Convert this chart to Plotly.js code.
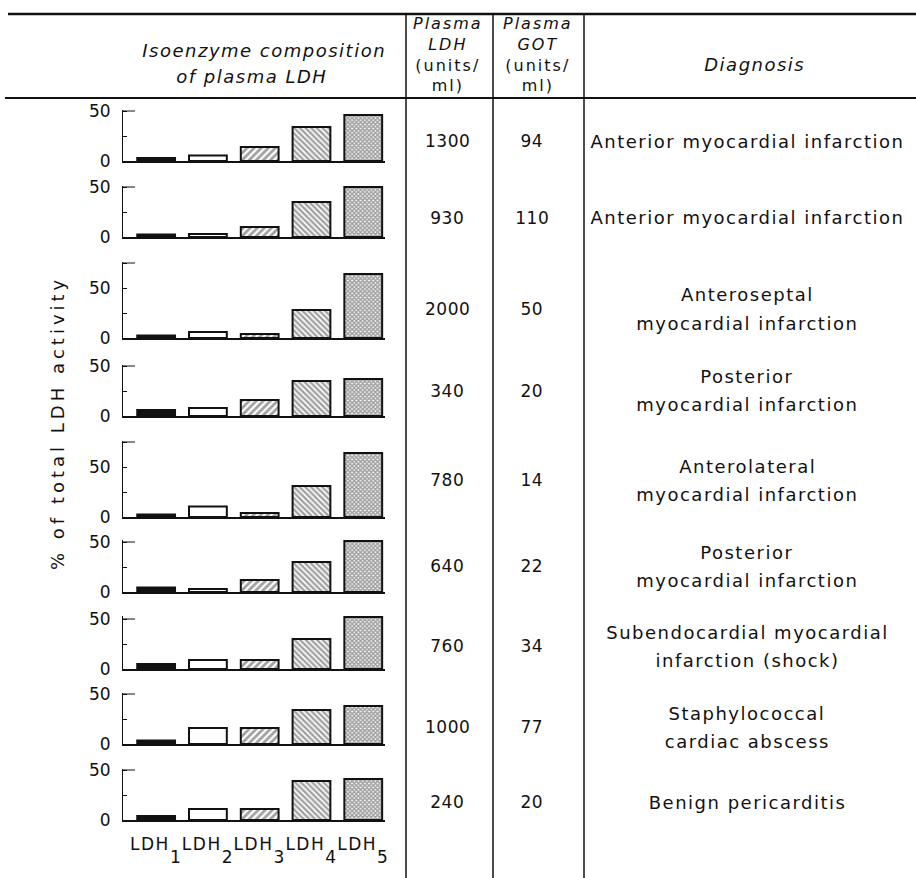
<!DOCTYPE html>
<html>
<head>
<meta charset="utf-8">
<script src="https://cdn.plot.ly/plotly-3.0.1.min.js"></script>
<style>
html,body{margin:0;padding:0;background:#fff;}
#chart{width:916px;height:878px;}
.xaxislayer-above text{letter-spacing:1.5px;}
</style>
</head>
<body>
<div id="chart"></div>
<script>
// ---------------- DATA ----------------
const isoenzymes = ["LDH1", "LDH2", "LDH3", "LDH4", "LDH5"];
const isoLabels = ["LDH<sub>1</sub>", "LDH<sub>2</sub>", "LDH<sub>3</sub>", "LDH<sub>4</sub>", "LDH<sub>5</sub>"];
// % of total LDH activity, one value per patient (row)
const ldh1 = [3, 2.5, 2.5, 6, 2.5, 4.5, 5, 3.5, 4];
const ldh2 = [5.5, 3, 6, 8, 10.5, 3, 9, 16, 11];
const ldh3 = [14, 10, 4, 16, 4, 12, 9, 16, 11];
const ldh4 = [34, 35, 28, 35, 31, 30, 30, 34, 39];
const ldh5 = [46, 50, 64, 37, 64, 51, 52, 38, 41];
const plasmaLDH = [1300, 930, 2000, 340, 780, 640, 760, 1000, 240];
const plasmaGOT = [94, 110, 50, 20, 14, 22, 34, 77, 20];
const diagnosis = [
  "Anterior myocardial infarction",
  "Anterior myocardial infarction",
  "Anteroseptal\nmyocardial infarction",
  "Posterior\nmyocardial infarction",
  "Anterolateral\nmyocardial infarction",
  "Posterior\nmyocardial infarction",
  "Subendocardial myocardial\ninfarction (shock)",
  "Staphylococcal\ncardiac abscess",
  "Benign pericarditis"
];
const yTitle = "% of total LDH activity";

// ---------------- LAYOUT GEOMETRY (pixels) ----------------
const W = 916, H = 878;
const FONT = "DejaVu Sans, Verdana, sans-serif";
const baselinePx = [161, 237, 338, 416, 517, 592, 669, 744, 820];
const axisTop = [50, 50, 75, 50, 75, 50, 50, 50, 50];
const pxPerUnit = 1.0;
const plotLeftPx = 123, plotRightPx = 385;
const rowTextY = [141, 218, 309, 391, 480, 566, 646, 727, 802];
const colLDHx = 447, colGOTx = 532, colDiagX = 747;
const diagLineGap = 28;

const px = v => v / W;
const py = v => 1 - v / H;

const traces = [];
const layout = {
  width: W, height: H, autosize: false,
  margin: {l: 0, r: 0, t: 0, b: 0, pad: 0},
  paper_bgcolor: "#fff", plot_bgcolor: "rgba(0,0,0,0)",
  showlegend: false,
  font: {family: FONT, color: "#111", size: 17},
  bargap: 0.27,
  shapes: [],
  annotations: []
};
const annSpacing = [];

function addText(text, x, y, size, opts, spacing) {
  layout.annotations.push(Object.assign({
    text: text, xref: "paper", yref: "paper", x: px(x), y: py(y),
    xanchor: "center", yanchor: "middle", showarrow: false,
    font: {family: FONT, size: size, color: "#111"}
  }, opts || {}));
  annSpacing.push(spacing || 0);
}

for (let i = 0; i < 9; i++) {
  const k = i === 0 ? "" : String(i + 1);
  const vals = [ldh1[i], ldh2[i], ldh3[i], ldh4[i], ldh5[i]];
  const rTop = Math.max(axisTop[i], Math.max(...vals)) + 1.5;
  const base = baselinePx[i];
  const topPx = base - rTop * pxPerUnit;
  traces.push({
    type: "bar", x: isoenzymes, y: vals,
    xaxis: "x" + k, yaxis: "y" + k,
    hoverinfo: "skip",
    marker: {
      color: ["#111", "#fff", "#fff", "#fff", "#fff"],
      line: {color: "#111", width: 2},
      pattern: {
        shape: ["", "", "/", "\\", "x"],
        size: [6, 6, 5, 4, 3],
        solidity: [0.3, 0.3, 0.55, 0.6, 0.75],
        fillmode: "overlay",
        fgcolor: "#111"
      }
    }
  });
  const last = i === 8;
  layout["xaxis" + k] = {
    domain: [px(plotLeftPx), px(plotRightPx)],
    anchor: "y" + k,
    type: "category",
    range: [-0.64, 4.42],
    showline: true, linecolor: "#111", linewidth: 2,
    showgrid: false, zeroline: false,
    ticks: "",
    showticklabels: last,
    tickvals: isoenzymes, ticktext: isoLabels,
    tickfont: {family: FONT, size: 17, color: "#111"},
    ticklabelstandoff: 8,
    fixedrange: true
  };
  layout["yaxis" + k] = {
    domain: [py(base), py(topPx)],
    anchor: "x" + k,
    range: [0, rTop],
    showline: true, linecolor: "#111", linewidth: 1,
    showgrid: false, zeroline: false,
    ticks: "inside", ticklen: 4, tickwidth: 1, tickcolor: "#111",
    tickvals: [0, 50], ticktext: ["0", "50"],
    minor: {tick0: 0, dtick: 25, ticks: "inside", ticklen: 4, tickwidth: 1, tickcolor: "#111", showgrid: false},
    tickfont: {family: FONT, size: 17, color: "#111"},
    ticklabelstandoff: 8,
    fixedrange: true
  };
  // top bracket of the small axis
  layout.shapes.push({
    type: "line", xref: "x" + k + " domain", yref: "y" + k,
    x0: 0, x1: 0.046, y0: axisTop[i], y1: axisTop[i],
    line: {color: "#111", width: 1}
  });
  // table cells
  addText(String(plasmaLDH[i]), colLDHx, rowTextY[i], 17, null, 0.5);
  addText(String(plasmaGOT[i]), colGOTx, rowTextY[i], 17, null, 0.5);
  const lines = diagnosis[i].split("\n");
  lines.forEach((ln, j) => {
    const yy = rowTextY[i] + (j - (lines.length - 1) / 2) * diagLineGap;
    addText(ln, colDiagX, yy, 18, null, 1.5);
  });
}

// headers
addText("<i>Isoenzyme composition</i>", 264, 50, 18, null, 1.5);
addText("<i>of plasma LDH</i>", 252, 77, 18, null, 1.5);
addText("<i>Plasma</i><br><i>LDH</i><br>(units/<br>ml)", 448, 55, 16, null, 2);
addText("<i>Plasma</i><br><i>GOT</i><br>(units/<br>ml)", 538, 55, 16, null, 2);
addText("<i>Diagnosis</i>", 755, 64, 18, null, 1.5);
addText(yTitle, 57, 423, 18, {textangle: -90}, 4);

// table rules
const hline = (y, x0, x1, w) => layout.shapes.push({type: "line", xref: "paper", yref: "paper",
  x0: px(x0), x1: px(x1), y0: py(y), y1: py(y), line: {color: "#111", width: w}});
const vline = (x, y0, y1, w) => layout.shapes.push({type: "line", xref: "paper", yref: "paper",
  x0: px(x), x1: px(x), y0: py(y0), y1: py(y1), line: {color: "#111", width: w}});
hline(14, 8, 916, 2.5);
hline(98, 5, 916, 2);
vline(406, 14, 878, 1.5);
vline(493, 14, 878, 1.5);
vline(584, 14, 878, 1.5);

Plotly.newPlot("chart", traces, layout, {staticPlot: true, displayModeBar: false}).then(gd => {
  document.querySelectorAll("g.annotation").forEach(g => {
    const idx = +g.getAttribute("data-index");
    const t = g.querySelector("text.annotation-text");
    if (t && annSpacing[idx]) t.style.letterSpacing = annSpacing[idx] + "px";
  });
  document.querySelectorAll(".xaxislayer-above text tspan").forEach(ts => {
    const st = ts.getAttribute("style") || "";
    if (st.indexOf("70%") >= 0) {
      ts.setAttribute("style", st.replace("70%", "100%"));
      ts.setAttribute("dy", "0.75em");
    }
  });
});
</script>
</body>
</html>
